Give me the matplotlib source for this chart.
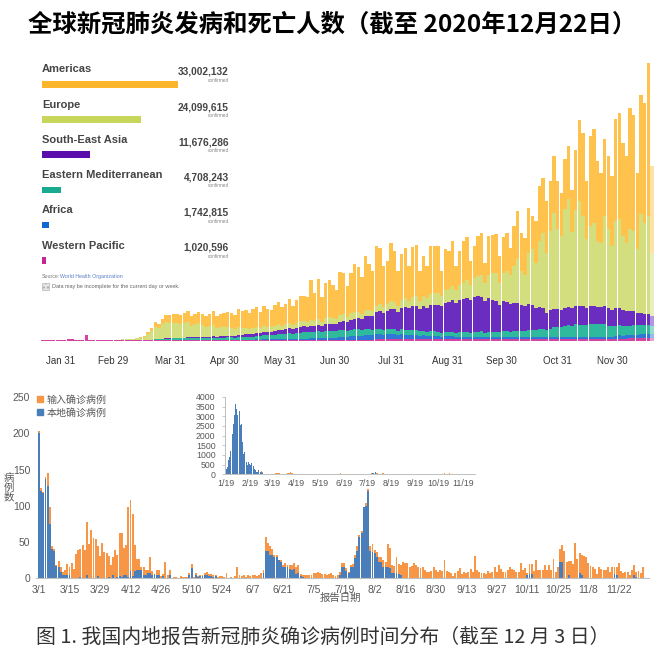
import numpy as np
import pandas as pd
import matplotlib.pyplot as plt
from matplotlib.patches import Patch, Rectangle

plt.rcParams['font.family'] = ['Liberation Sans', 'Noto Sans CJK SC', 'DejaVu Sans']
CJK = ['Noto Sans CJK SC', 'DejaVu Sans']

# ---------------- top: WHO daily new cases by region (thousands), one bar every 2 days from Jan 21
who_first_day = 20   # days since Jan 1
amr = [0,0,0,0,0,0,0,0,0,0, 0,0,0,0,0,0,0,0,0,0, 0,0.02,0.1,0.1,0.2,
       0.5,1,1.5,3,6,10,15,12,17,22,24,28,29,29,31,34,30,32,35,34,32,36,42,35,40,43,45,44,42,52,
       50,53,48,58,60,48,62,54,51,63,66,57,60,72,55,67,76,73,
       75,119,84,121,73,107,111,98,86,127,125,93,122,144,134,110,162,138,121,180,170,124,131,176,153,106,
       138,152,106,148,151,90,121,96,146,141,141,77,125,115,135,74,102,126,128,73,98,120,126,60,118,
       114,117,81,108,114,81,120,144,114,111,135,99,126,165,165,156,150,171,144,129,150,159,126,180,240,
       249,174,270,282,240,210,231,219,210,306,315,279,261,360,345,228,354,357,456,261]
eur = [0,0,0,0,0,0,0,0,0,0, 0,0,0,0,0,0,0,0,0.1,0.3, 0.5,0.8,1.5,2.0,3.0,
       3.5,5.5,6.5,9,18,25,38,33,43,48,45,45,44,41,43,45,35,38,41,36,29,33,35,26,28,27,27,23,19,25,
       20,19,15,18,18,14,17,14,13,15,16,14,15,17,14,16,18,17,
       15,17,15,18,14,18,19,18,16,21,21,17,20,21,19,16,20,19,16,19,20,17,19,22,22,17,
       24,26,22,28,30,24,30,30,33,36,36,30,38,40,44,38,45,48,52,45,55,62,66,55,70,
       81,84,66,84,93,87,111,132,102,93,153,168,135,198,225,180,237,288,240,222,297,324,228,288,315,
       270,207,240,249,198,192,270,237,192,261,267,222,204,246,240,192,297,273,294,189]
sea = [0,0,0,0,0,0,0,0,0,0, 0,0,0,0,0,0,0,0,0,0, 0,0,0,0,0,
       0.01,0.02,0.05,0.1,0.1,0.2,0.3,0.4,0.6,0.8,1.0,1.2,1.3,1.5,1.8,2.0,2.2,2.5,2.8,3.0,3.2,3.5,3.8,3.8,
       4.2,4.5,5.0,5.2,5.3,6.0,6.5,7.0,7.0,8.0,8.5,8.5,10,10,10.5,12,13,12.5,13.5,15,14,16,17,18,
       17,18,17,19,17,20,21,21,21,24,26,25,29,32,33,33,38,40,42,50,53,52,56,60,61,
       58,65,68,66,70,72,68,74,72,78,80,82,80,88,90,95,90,98,100,103,98,105,106,104,95,100,
       94,93,82,90,89,83,86,85,79,76,80,76,68,68,64,51,57,55,55,53,55,56,52,55,57,
       57,52,55,55,53,53,55,54,50,54,53,50,46,46,44,38,37,34,34,30]
emr = [0,0,0,0,0,0,0,0,0,0, 0,0,0,0,0,0,0,0.1,0.2,0.5, 0.6,0.8,1.1,1.2,1.0,
       1.0,1.2,1.4,1.4,1.3,1.5,2.0,2.2,3.0,3.5,3.5,3.8,4.0,4.0,4.5,5.0,4.8,5.0,5.2,5.3,5.5,5.8,6.0,5.5,
       6.2,6.5,7.0,6.8,6.5,7.5,8.0,8.5,8.5,9.0,9.5,11,12,12,12.5,14,15,14.5,15.5,17,15.5,17,18.5,19,
       19,20,19,21,19,21,21,20,19,22,21,19,20,20,19,17,18,17,15,16,16,14,15,16,15,
       13,15,15,14,15,15,13,14,13,13,13,12,11,12,12,13,12,13,14,14,13,15,15,16,14,16,
       16,16,15,17,17,16,17,18,18,19,20,21,21,23,24,23,26,30,30,30,34,35,35,38,37,
       37,35,39,40,39,38,38,33,31,31,30,28,27,26,28,28,28,28,28,26]
afr = [0,0,0,0,0,0,0,0,0,0, 0,0,0,0,0,0,0,0,0,0, 0,0,0,0,0,
       0,0.02,0.05,0.05,0.1,0.2,0.3,0.3,0.5,0.5,0.6,0.7,0.8,0.8,0.9,1.0,1.0,1.1,1.2,1.2,1.2,1.3,1.5,1.3,
       1.5,1.6,1.8,1.7,1.6,2.0,2.0,2.2,2.0,2.4,2.5,2.3,2.8,2.6,2.8,3.2,3.5,3.3,3.6,4.0,3.6,4.0,4.5,4.5,
       5,5.5,5.5,6,5.5,6.5,7,7,7,9,9.5,9,11,12,12,11,14,14,13,16,16,14,14,15,14,
       11,13,12,11,12,11,9,10,9,9.5,9,8.5,7,8,7.5,7.5,6.5,7,7,7,6,6.5,6.5,6.5,5,5.5,
       6,6,5,6,6,6,6,6,5,5,6,6,5,6,6,5,5,6,6,5,5,6,5,6,6,
       6,7,6,5,5,6,7,7,7,8,10,9,10,11,11,11,12,12,12,12]
wpr = [0.1,0.3,0.7,1.5,1.8,2.0,2.8,3.9,3.7,3.0,2.5,2.1,15.2,2.6,1.9,1.0,0.9,0.8,0.9,1.0,1.2,1.1,0.9,0.8,0.6,
       0.5,0.4,0.4,0.5,0.8,1.0,1.2,1.3,1.5,1.5,1.6,1.6,1.7,1.7,1.8,1.8,1.5,1.6,1.5,1.3,1.2,1.1,1.1,0.9,
       0.9,0.9,0.8,0.7,0.7,0.7,0.7,0.6,0.6,0.6,0.6,0.5,0.6,0.5,0.5,0.6,0.6,0.6,0.7,0.7,0.6,0.7,0.8,0.8,
       0.8,0.9,0.8,1.0,0.9,1.0,1.1,1.2,1.2,1.4,1.5,1.5,1.8,2.0,2.2,2.2,2.5,2.8,3.0,3.5,4.0,4.0,4.5,5,5,
       5,5.5,6,6,6,6,5.5,5.5,5,5.5,5.5,5,5,5,5,5,4.5,5,5,5,4.5,5,5,5,4.5,5,
       5,5,4.5,5,5,5,5,5,4.5,5,5,5,5,5,5,5,5,5,5,5,5,5,5,5,5,
       5,5,5,5,5,5,5,5,5,5,6,6,6,7,7,7,7,7,7,7]

region_names = ['Americas', 'Europe', 'South-East Asia', 'Eastern Mediterranean', 'Africa', 'Western Pacific']
region_totals = [33002132, 24099615, 11676286, 4708243, 1742815, 1020596]
month_days = [30, 59, 90, 120, 151, 181, 212, 243, 273, 304, 334]
month_labels = ['Jan 31', 'Feb 29', 'Mar 31', 'Apr 30', 'May 31', 'Jun 30', 'Jul 31', 'Aug 31',
                'Sep 30', 'Oct 31', 'Nov 30']

# ---------------- bottom: China mainland daily confirmed cases, Mar 1 - Dec 3
local_cases = [200,120,117,137,127,75,41,37,17,16, 9,5,4,4,4,1,1,0,0,2,
               1,0,4,0,1,1,0,3,1,1, 1,1,2,1,5,1,2,3,2,4, 4,2,10,3,10,11,11,11,5,4,
               7,7,4,6,5,4,1,3,1,1, 5,0,0,0,0,0,1,0,1,4, 14,1,5,2,3,3,4,4,3,3,
               2,3,1,1,0,0,0,0,0,0, 0,0,0,0,0,0,0,0,0,0, 0,0,1,7,38,37,32,32,29,29,
               25,23,15,15,15,13,11,13,6,7, 3,2,0,0,0,0,0,0,0,0, 0,0,0,0,0,0,0,1,5,15,
               16,10,7,15,16,28,37,57,62,98, 100,120,37,36,35,30,22,22,15,15, 15,14,7,7,7,6,5,1,0,0,
               0,0,0,0,0,0,0,0,0,0, 0,0,0,0,0,0,0,0,0,0, 0,0,0,0,0,0,0,0,0,0,
               0,0,0,0,0,0,0,0,0,0, 0,0,0,0,0,0,0,0,0,0, 0,0,0,0,4,6,6,0,0,0,
               0,0,0,0,0,0,0,0,0,22, 22,0,1,5,0,0,0,1,7,5, 0,0,0,1,0,1,0,0,0,0,
               0,0,0,0,6,4,0,0,0,0, 0,0,0,4,2,0,0,0]
imported_cases = [3,4,2,2,18,24,3,3,2,8, 6,3,7,16,12,20,12,34,39,39,
                  45,39,74,47,66,54,54,42,30,47, 35,34,29,18,25,38,30,59,61,38, 42,97,98,86,36,15,16,5,11,8,
                  4,23,6,0,6,8,2,3,21,3, 7,1,2,2,1,3,1,2,1,3, 6,1,2,1,1,2,3,4,3,3,
                  3,2,1,2,3,2,7,1,2,1, 3,16,5,3,4,2,4,3,5,4, 3,5,6,4,19,11,12,8,3,3,
                  0,2,4,6,3,5,8,8,10,11, 3,3,4,4,4,5,7,7,8,7, 6,6,5,6,7,4,3,4,3,6,
                  5,4,2,3,4,4,7,3,3,1, 4,3,7,11,4,6,8,7,10,8, 32,28,11,10,22,14,14,21,21,21,
                  15,17,21,18,16,14,15,11,9,9, 10,16,12,9,12,10,25,10,8,7, 3,7,10,14,6,9,7,9,13,8,
                  31,12,8,7,7,6,10,7,9,15, 9,18,13,9,8,12,16,13,11,9, 9,21,12,14,3,14,14,10,25,12,
                  12,12,18,12,18,12,27,9,15,19, 24,37,21,19,24,20,48,25,28,27, 31,30,21,16,15,12,6,15,13,11,
                  12,15,9,16,10,12,21,10,7,9, 8,5,12,14,7,10,7,15]
# Jan 19 - Feb 29, shown only in the inset
janfeb_cases = [60,290,380,600,725,900,1200,1500,1930,2100, 2620,3050,3300,3650,3400,3050,3220,3650,3300,2530,
                2620,2190,1670,1070,1150,1000,725,640,465,640, 380,550,465,600,550,380,420,300,200,150, 120,120]
inset_ticks = [0, 31, 60, 91, 121, 152, 182, 213, 244, 274, 305]
inset_labels = ['1/19', '2/19', '3/19', '4/19', '5/19', '6/19', '7/19', '8/19', '9/19', '10/19', '11/19']

W, H = 663, 657
fig = plt.figure(figsize=(W / 100, H / 100), dpi=100)
fx = lambda px: px / W
fy = lambda py: 1 - py / H

fig.text(fx(332), fy(25), '全球新冠肺炎发病和死亡人数（截至 2020年12月22日）', ha='center', va='center',
         fontsize=17.6, fontweight='bold', family=CJK, color='black')

# ---- top stacked bars
bar_colors = ['#FFC24D', '#D3DE7E', '#6A2DC0', '#2FBA9E', '#2F78D8', '#D2449F']
key_colors = ['#FDB62C', '#C8D65C', '#5A0DAA', '#17AA8F', '#1367D3', '#C72590']
series = [amr, eur, sea, emr, afr, wpr]
days = who_first_day + 2 * np.arange(len(amr))

ax1 = fig.add_axes([fx(40), fy(340.5), fx(655) - fx(40), (340.5 - 60) / H])
bottoms = np.zeros(len(days))
for vals, col in zip(series[::-1], bar_colors[::-1]):
    vals = np.array(vals, dtype=float)
    ax1.bar(days[:-1], vals[:-1], width=1.85, bottom=bottoms[:-1], color=col, linewidth=0)
    ax1.bar(days[-1:], vals[-1:], width=1.85, bottom=bottoms[-1:], color=col, linewidth=0, alpha=0.5)
    bottoms += vals
ax1.set_xlim(18.4, 357.7)
ax1.set_ylim(0, 841.5)
ax1.axhline(0, color='#d8d8d8', lw=0.6)
for s in ax1.spines.values():
    s.set_visible(False)
ax1.set_yticks([])
ax1.set_xticks(month_days)
ax1.set_xticklabels(month_labels, fontsize=7, color='#333333')
ax1.tick_params(axis='x', length=0, pad=11)
ax1.patch.set_alpha(0)

# region key over the chart
pitch = 35.2
axk = fig.add_axes([fx(42), fy(84.3 + 5.5 * pitch), fx(230) - fx(42), 6 * pitch / H])
axk.barh(np.arange(6), np.array(region_totals) / 1e6, height=6.6 / pitch, color=key_colors, linewidth=0)
axk.set_xlim(0, region_totals[0] / 1e6 * 188 / 136)
axk.set_ylim(5.5, -0.5)
axk.axis('off')
for i, (name, tot) in enumerate(zip(region_names, region_totals)):
    y0 = 69.5 + pitch * i
    fig.text(fx(42), fy(y0), name, ha='left', va='center', fontsize=8, fontweight='bold', color='#454545')
    fig.text(fx(229), fy(y0 + 2.3), f'{tot:,}', ha='right', va='center', fontsize=7.3,
             fontweight='bold', color='#454545')
    fig.text(fx(229), fy(y0 + 10.8), 'confirmed', ha='right', va='center', fontsize=3.4, color='#888888')
fig.text(fx(42), fy(276.5), 'Source:', ha='left', va='center', fontsize=3.8, color='#777777')
fig.text(fx(60), fy(276.5), 'World Health Organization', ha='left', va='center', fontsize=3.8, color='#5b7fc4')
fig.patches.append(Rectangle((fx(42), fy(290)), fx(7), 7 / H, transform=fig.transFigure,
                             facecolor='#e6e6e6', edgecolor='#aaaaaa', hatch='....', lw=0.4))
fig.text(fx(52), fy(287), 'Data may be incomplete for the current day or week.', ha='left', va='center',
         fontsize=4, color='#666666')

# ---- bottom: China daily cases
orange, blue = '#F79646', '#4A7EBB'
grey = '#595959'
d = np.arange(len(local_cases))
local = np.array(local_cases)
imported = np.array(imported_cases)

ax2 = fig.add_axes([fx(35.7), fy(578.3), (649.4 - 35.7) / W, (578.3 - 397) / H])
ax2.bar(d, local, width=0.88, color=blue, linewidth=0)
ax2.bar(d, imported, width=0.88, bottom=local, color=orange, linewidth=0)
ax2.set_xlim(-1.5, 280)
ax2.set_ylim(0, 250)
ax2.set_yticks(range(0, 251, 50))
ax2.tick_params(axis='y', length=0, pad=4, labelsize=7.5, labelcolor=grey)
tick_dates = pd.date_range('2020-03-01', periods=20, freq='14D')
ax2.set_xticks(np.arange(20) * 14)
ax2.set_xticklabels([f'{t.month}/{t.day}' for t in tick_dates])
ax2.tick_params(axis='x', length=0, pad=4.5, labelsize=7.5, labelcolor=grey)
for k in ['top', 'right', 'left']:
    ax2.spines[k].set_visible(False)
ax2.spines['bottom'].set_color('#bfbfbf')
ax2.spines['bottom'].set_linewidth(0.8)
ax2.patch.set_alpha(0)
ax2.legend(handles=[Patch(color=orange, label='输入确诊病例'), Patch(color=blue, label='本地确诊病例')],
           loc='upper left', bbox_to_anchor=(fx(37), fy(395)), bbox_transform=fig.transFigure,
           frameon=False, prop={'family': CJK, 'size': 7.2}, labelcolor=grey, handlelength=0.55,
           handleheight=0.55, handletextpad=0.45, labelspacing=0.3, borderpad=0, borderaxespad=0)
fig.text(fx(9), fy(488), '病\n例\n数', ha='center', va='center', fontsize=7.5, family=CJK, color=grey,
         linespacing=0.95)
fig.text(fx(340), fy(598), '报告日期', ha='center', va='center', fontsize=7.5, family=CJK, color=grey)

# inset: from Jan 19
ax3 = fig.add_axes([fx(225.3), fy(474.3), (475.1 - 225.3) / W, (474.3 - 397) / H])
n_jf = len(janfeb_cases)
ax3.bar(np.arange(n_jf), janfeb_cases, width=0.9, color=blue, linewidth=0)
ax3.bar(d + n_jf, local, width=0.9, color=blue, linewidth=0)
ax3.bar(d + n_jf, imported, width=0.9, bottom=local, color=orange, linewidth=0)
ax3.set_xlim(-0.5, 321)
ax3.set_ylim(0, 4000)
ax3.set_yticks(range(0, 4001, 500))
ax3.tick_params(axis='y', length=2.5, width=0.6, color='#bfbfbf', pad=4.5, labelsize=6.3, labelcolor=grey)
ax3.set_xticks(inset_ticks)
ax3.set_xticklabels(inset_labels)
ax3.tick_params(axis='x', length=0, pad=3.5, labelsize=6.3, labelcolor=grey)
for k in ['top', 'right']:
    ax3.spines[k].set_visible(False)
for k in ['left', 'bottom']:
    ax3.spines[k].set_color('#bfbfbf')
    ax3.spines[k].set_linewidth(0.7)
ax3.patch.set_alpha(0)

fig.text(fx(323), fy(637), '图 1. 我国内地报告新冠肺炎确诊病例时间分布（截至 12 月 3 日）', ha='center',
         va='center', fontsize=14.3, family=CJK, color='#333333')

fig.savefig('out.png', dpi=100)
